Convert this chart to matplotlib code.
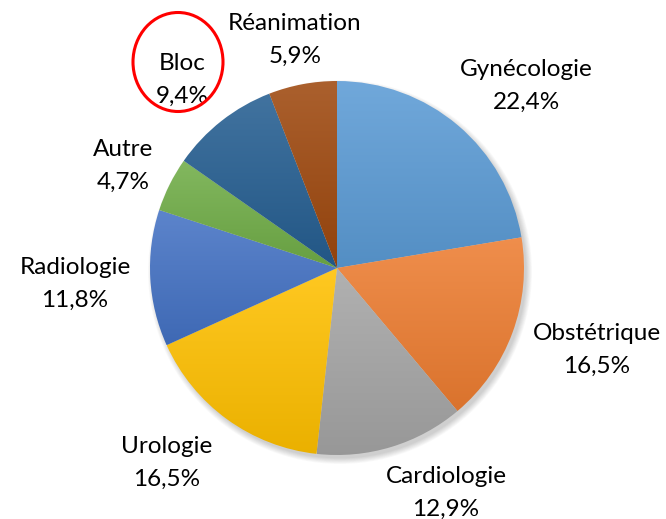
import numpy as np
import matplotlib
matplotlib.use("Agg")
import matplotlib.pyplot as plt
from matplotlib.colors import to_rgb
from matplotlib.patches import Ellipse, Circle

plt.rcParams["font.family"] = ["Lato", "DejaVu Sans"]

# Data
services = ["Gynécologie", "Obstétrique", "Cardiologie", "Urologie",
            "Radiologie", "Autre", "Bloc", "Réanimation"]
shares = [22.4, 16.5, 12.9, 16.5, 11.8, 4.7, 9.4, 5.9]
colors = ["#5B9BD5", "#ED7D31", "#A5A5A5", "#FFC000",
          "#4472C4", "#70AD47", "#255E91", "#9E480E"]

# label centres in pixel coordinates (layout)
label_pos = [(526, 86), (597, 350), (446, 493), (167, 463),
             (75, 284), (123, 166), (182, 80), (295, 40)]

W, H = 666, 519
fig = plt.figure(figsize=(W / 100, H / 100), dpi=100)
ax = fig.add_axes([0, 0, 1, 1])

cx, cy, r = 337, 268, 187

# soft shadow
for i in range(8):
    ax.add_patch(Circle((cx + 3, cy + 4), r + 5 - i * 0.8, color="black",
                        alpha=0.025, lw=0, zorder=0))

# y axis is inverted below, so counterclockwise in data = clockwise on screen
wedges, _ = ax.pie(shares, colors=colors, startangle=-90, counterclock=True,
                   center=(cx, cy), radius=r, frame=True,
                   wedgeprops=dict(linewidth=0))
ax.set_xlim(0, W)
ax.set_ylim(H, 0)
ax.set_aspect("equal")
ax.axis("off")


def shade(c, f):
    c = np.array(to_rgb(c))
    if f > 0:
        return c + (1 - c) * f
    return c * (1 + f)


# vertical gradient fill, lighter on top
for w, c in zip(wedges, colors):
    w.set_facecolor("none")
    bb = w.get_path().transformed(w.get_patch_transform()).get_extents()
    top, bot = shade(c, 0.13), shade(c, -0.08)
    t = np.linspace(0, 1, 64)[:, None]
    grad = (top[None, :] * (1 - t) + bot[None, :] * t)[:, None, :]
    im = ax.imshow(grad, extent=(bb.x0, bb.x1, bb.y1, bb.y0), aspect="auto",
                   interpolation="bilinear", zorder=1)
    im.set_clip_path(w)

for name, val, (x, y) in zip(services, shares, label_pos):
    ax.text(x, y, f"{name}\n{val:.1f}%".replace(".", ","), ha="center",
            va="center", fontsize=17.5, linespacing=1.72, color="black")

ax.add_patch(Ellipse((178, 62), 90, 99, fill=False, edgecolor="#FF0000",
                     lw=2.2, zorder=5))

fig.savefig("out.png", dpi=100)
